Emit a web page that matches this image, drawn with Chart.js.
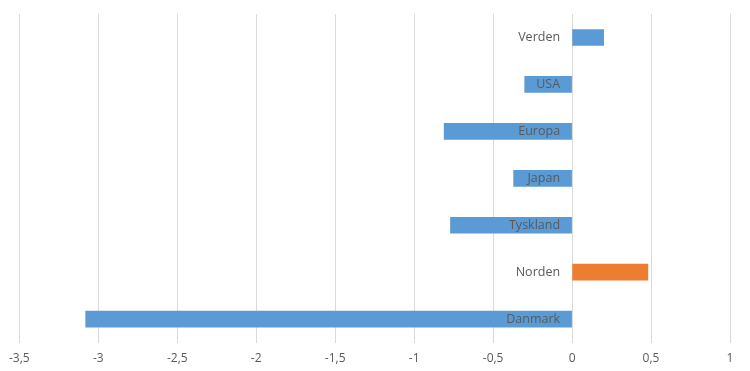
<!DOCTYPE html>
<html>
<head>
<meta charset="utf-8">
<script src="https://cdn.jsdelivr.net/npm/chart.js@4"></script>
<style>
  body { margin: 0; background: #fff; }
  #wrap { width: 750px; height: 371px; }
</style>
</head>
<body>
<div id="wrap"><canvas id="myChart" width="750" height="371"></canvas></div>
<script>
// Data
var regions = ['Verden', 'USA', 'Europa', 'Japan', 'Tyskland', 'Norden', 'Danmark'];
var values = [0.2, -0.3, -0.81, -0.37, -0.77, 0.48, -3.08];
var barColors = ['#5B9BD5', '#5B9BD5', '#5B9BD5', '#5B9BD5', '#5B9BD5', '#ED7D31', '#5B9BD5'];
var xMin = -3.5, xMax = 1, xStep = 0.5;

Chart.defaults.font.family = '"Open Sans", sans-serif';
Chart.defaults.color = '#595959';

// category names sit just left of the zero line, on top of the bars
var zeroLabels = {
    id: 'zeroLabels',
    afterDatasetsDraw: function (chart) {
        var c = chart.ctx;
        var x0 = chart.scales.x.getPixelForValue(0);
        c.save();
        c.font = '12.5px "Open Sans", sans-serif';
        c.fillStyle = '#595959';
        c.textAlign = 'right';
        c.textBaseline = 'middle';
        chart.data.labels.forEach(function (lbl, i) {
            c.fillText(lbl, x0 - 12, chart.scales.y.getPixelForValue(i));
        });
        c.restore();
    }
};

var ctx = document.getElementById('myChart').getContext('2d');
var chart = new Chart(ctx, {
    type: 'bar',
    data: {
        labels: regions,
        datasets: [{
            data: values,
            backgroundColor: barColors,
            borderWidth: 0,
            barThickness: 16
        }]
    },
    options: {
        indexAxis: 'y',
        responsive: false,
        animation: false,
        layout: {
            padding: { left: 11, right: 20, top: 14, bottom: -4 }
        },
        scales: {
            x: {
                min: xMin,
                max: xMax,
                ticks: {
                    stepSize: xStep,
                    font: { size: 12 },
                    padding: 9,
                    callback: function (v) { return String(v).replace('.', ','); }
                },
                grid: { color: '#d9d9d9', drawTicks: false },
                border: { display: false }
            },
            y: {
                display: false
            }
        },
        plugins: {
            legend: { display: false },
            tooltip: { enabled: false }
        }
    },
    plugins: [zeroLabels]
});
</script>
</body>
</html>
